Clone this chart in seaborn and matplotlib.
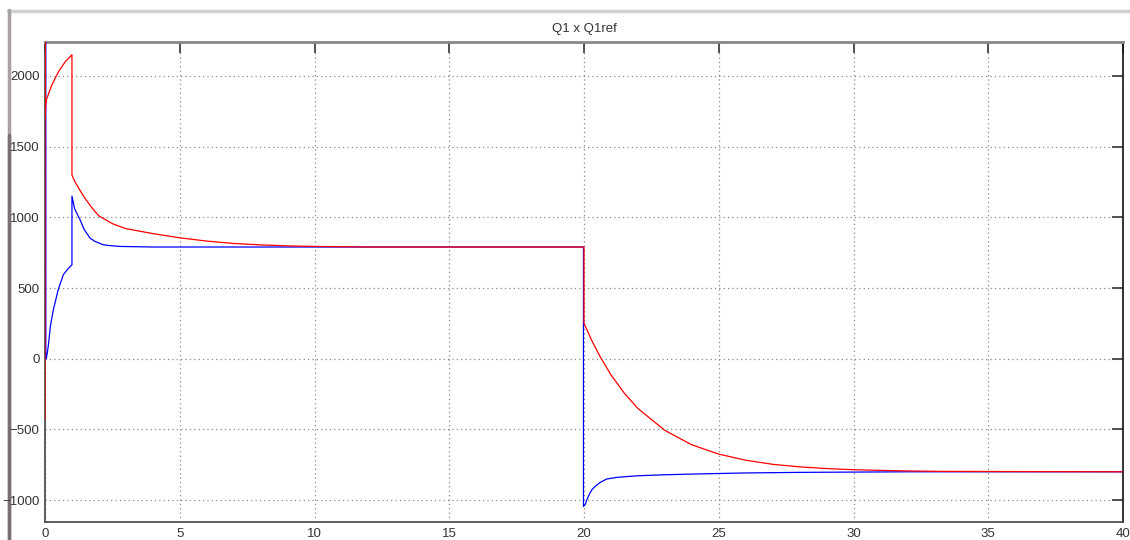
import seaborn as sns
import matplotlib.pyplot as plt
from matplotlib.lines import Line2D

# Q1ref (red)
t_ref = [0, 0, 0, 0.01, 0.05, 0.25, 0.5, 0.75, 1.0, 1.0, 1.1, 1.3, 1.5, 1.75, 2,
         2.5, 3, 4, 5, 6, 7, 8, 9, 10, 12, 20, 20, 20.3, 20.6, 21, 21.5, 22, 23,
         24, 25, 26, 27, 28, 29, 30, 31, 32, 33.3, 40]
q1ref = [-430, 2300, 1700, 1750, 1830, 1935, 2030, 2100, 2150, 1300, 1255, 1190,
         1130, 1065, 1010, 955, 920, 885, 855, 832, 815, 805, 798, 794, 790, 790,
         250, 124, 14, -114, -245, -352, -507, -609, -675, -718, -747, -765,
         -777, -785, -790, -794, -797, -800]

# Q1 (blue)
t_q1 = [0.03, 0.03, 0.05, 0.12, 0.2, 0.31, 0.49, 0.68, 0.85, 1.0, 1.0, 1.1, 1.3,
        1.45, 1.67, 1.85, 2.16, 2.4, 2.8, 4, 19.98, 19.98, 20.05, 20.1, 20.22,
        20.3, 20.4, 20.6, 20.84, 21.2, 21.5, 22, 23, 24, 25, 26, 28, 30, 32, 40]
q1 = [2300, 0, 0, 87, 230, 346, 488, 594, 635, 665, 1150, 1060, 983, 915, 853,
      830, 806, 800, 794, 790, 790, -1045, -1030, -1000, -950, -925, -905,
      -875, -851, -840, -835, -828, -821, -816, -812, -808, -804, -802, -800,
      -800]

x_ticks = [0, 5, 10, 15, 20, 25, 30, 35, 40]
y_ticks = [-1000, -500, 0, 500, 1000, 1500, 2000]

sns.set_style("white")
plt.rcParams["font.family"] = ["Liberation Sans", "DejaVu Sans"]

fig = plt.figure(figsize=(11.3, 5.4), dpi=100)
ax = fig.add_axes([45 / 1130, 18 / 540, 1078 / 1130, 480 / 540])

sns.lineplot(x=t_q1, y=q1, sort=False, estimator=None, color="#0000ff",
             linewidth=0.9, zorder=3, ax=ax)
sns.lineplot(x=t_ref, y=q1ref, sort=False, estimator=None, color="#ff0000",
             linewidth=0.9, zorder=3, ax=ax)

ax.set_xlim(0, 40)
ax.set_ylim(-1155, 2240)
ax.set_xticks(x_ticks)
ax.set_yticks(y_ticks)
ax.grid(True, color="#888888", linestyle=(0, (1, 2.5)), linewidth=0.9)
ax.tick_params(direction="in", length=8, width=1.3, color="#444444",
               top=True, right=True, labelsize=9.5, labelcolor="#333333", pad=4)

for side in ["left", "bottom"]:
    ax.spines[side].set_color("#444444")
    ax.spines[side].set_linewidth(1.2)
ax.spines["top"].set_color("#888888")
ax.spines["top"].set_linewidth(2)
ax.spines["right"].set_color("#111111")
ax.spines["right"].set_linewidth(1.2)

ax.set_title("Q1 x Q1ref", fontsize=9.5, color="#333333", pad=7.5)

# bordes de la ventana
fig.add_artist(Line2D([8 / 1130, 1], [529 / 540, 529 / 540], color="#d0d0d0",
                      linewidth=2.5, zorder=-1))
fig.add_artist(Line2D([8.5 / 1130, 8.5 / 1130], [0, 530 / 540], color="#a8a2a4",
                      linewidth=2.5, zorder=-1))
fig.add_artist(Line2D([8.5 / 1130, 8.5 / 1130], [0, 405 / 540], color="#7a7074",
                      linewidth=2.5, zorder=-1))

fig.savefig("out.png", dpi=100)
